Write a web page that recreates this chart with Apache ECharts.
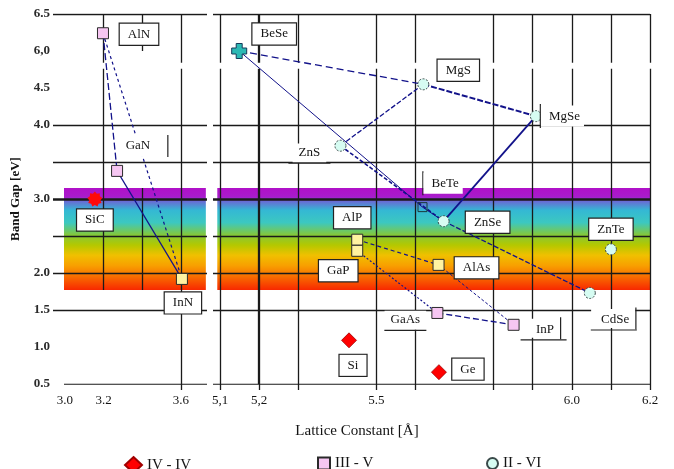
<!DOCTYPE html>
<html>
<head>
<meta charset="utf-8">
<script src="https://cdn.jsdelivr.net/npm/echarts@6/dist/echarts.min.js"></script>
<style>
html, body { margin: 0; padding: 0; background: #fff; }
#chart { width: 674px; height: 469px; }
</style>
</head>
<body>
<div id="chart"></div>
<script>
// compounds: lattice constant [A] and band gap, read on the drawn (broken) axis
var ivNames = ['SiC', 'Si', 'Ge'];
var ivLattice = [3.155, 5.43, 5.66];
var ivGap = [3.0, 1.09, 0.66];

var iiiNames = ['AlN', 'GaN', 'InN', 'AlP', 'GaP', 'AlAs', 'GaAs', 'InP'];
var iiiLattice = [3.197, 3.27, 3.606, 5.451, 5.451, 5.659, 5.656, 5.851];
var iiiGap = [5.24, 3.38, 1.92, 2.45, 2.30, 2.11, 1.46, 1.30];

var iiviNames = ['BeSe', 'MgS', 'MgSe', 'ZnS', 'BeTe', 'ZnSe', 'ZnTe', 'CdSe'];
var iiviLattice = [5.149, 5.62, 5.908, 5.408, 5.618, 5.672, 6.1, 6.046];
var iiviGap = [5.0, 4.55, 4.12, 3.72, 2.89, 2.70, 2.32, 1.73];

// tie lines between compounds
var links = [
  ['AlN', 'GaN'], ['GaN', 'InN'], ['AlN', 'InN'],
  ['BeSe', 'MgS'], ['MgS', 'MgSe'], ['MgS', 'ZnS'], ['MgSe', 'ZnSe'],
  ['BeSe', 'BeTe'], ['BeTe', 'ZnSe'], ['ZnS', 'ZnSe'], ['ZnSe', 'CdSe'],
  ['AlP', 'AlAs'], ['GaP', 'GaAs'], ['GaAs', 'InP'], ['AlAs', 'InP']
];

// axis ticks
var yTicks = [0.5, 1.0, 1.5, 2.0, 2.5, 3.0, 3.5, 4.0, 4.5, 5.0, 5.5];
var yTickLabels = ['0.5', '1.0', '1.5', '2.0', '', '3.0', '', '4.0', '4.5', '6,0', '6.5'];
var xLeftTicks = [3.0, 3.2, 3.6];
var xLeftTickLabels = ['3.0', '3.2', '3.6'];
var xRightTicks = [5.1, 5.2, 5.5, 6.0, 6.2];
var xRightTickLabels = ['5,1', '5,2', '5.5', '6.0', '6.2'];

// grid lines and the coloured visible band
var hLines = [5.5, 4.0, 3.5, 3.0, 2.5, 2.0, 1.5, 0.5];
var vLinesLeft = [3.2, 3.4, 3.6];
var vLinesRight = [5.1, 5.2, 5.3, 5.5, 5.6, 5.8, 5.9, 6.0, 6.1, 6.2];
var bandTop = 3.15;
var bandBottom = 1.77;

// ---------- layout / style ----------
var SERIF = '"Liberation Serif", "DejaVu Serif", serif';
var INK = '#141414';
var NAVY = '#12128a';
var leftRange = [2.938, 3.736];
var rightRange = [5.082, 6.2];
var yBreak = [4.76, 4.84];
var vSpansLeft = {
  '3.2': [[5.5, yBreak[1]], [yBreak[0], bandBottom]],
  '3.4': [[5.5, 5.0], [bandTop, bandBottom]],
  '3.6': [[5.5, yBreak[1]], [yBreak[0], 0.5]]
};
var boldLines = { '3': 2.6, '5.2': 2.3 };

var linkStyle = {
  'AlN-GaN': { type: [7, 3], width: 1.3 },
  'GaN-InN': { type: 'solid', width: 1.2 },
  'AlN-InN': { type: [3, 3], width: 1.2 },
  'BeSe-MgS': { type: [7, 4], width: 1.3 },
  'MgS-MgSe': { type: [6, 2], width: 2 },
  'MgS-ZnS': { type: [5, 2], width: 1.3 },
  'MgSe-ZnSe': { type: 'solid', width: 1.8 },
  'BeSe-BeTe': { type: 'solid', width: 1 },
  'BeTe-ZnSe': { type: 'solid', width: 1 },
  'ZnS-ZnSe': { type: [4, 2], width: 1.6 },
  'ZnSe-CdSe': { type: [5, 2], width: 1.3 },
  'AlP-AlAs': { type: [4, 3], width: 1.2 },
  'GaP-GaAs': { type: [2, 2], width: 1.2 },
  'GaAs-InP': { type: [6, 3], width: 1.3 },
  'AlAs-InP': { type: [3, 2], width: 1 }
};

var labelLayout = {
  AlN: [36, 1, 'box'], GaN: [28, -25, 'right'], InN: [1, 24, 'box'], SiC: [0, 21, 'box'],
  AlP: [-5, -22, 'box'], GaP: [-19, 20, 'box'], AlAs: [38, 3, 'box'], GaAs: [-32, 8, 'under'],
  InP: [30, 4, 'corner'], Si: [4, 25, 'box'], Ge: [29, -3, 'box'],
  BeSe: [35, -17, 'box'], MgS: [35, -14, 'box'], MgSe: [26, 0, 'left'], ZnS: [-31, 8, 'under'],
  BeTe: [20, -24, 'left'], ZnSe: [44, 1, 'box'], ZnTe: [0, -20, 'box'], CdSe: [24, 26, 'corner']
};

function starPath(n, r1, r2) {
  var p = [];
  for (var i = 0; i < n * 2; i++) {
    var r = i % 2 ? r2 : r1;
    var a = Math.PI * i / n;
    p.push((i ? 'L' : 'M') + (10 + r * Math.sin(a)).toFixed(2) + ',' + (10 - r * Math.cos(a)).toFixed(2));
  }
  return 'path://' + p.join(' ') + ' Z';
}
var plusPath = 'path://M3,0 L7,0 L7,3 L10,3 L10,7 L7,7 L7,10 L3,10 L3,7 L0,7 L0,3 L3,3 Z';

var itemOverride = {
  SiC: { symbol: starPath(9, 10, 7.5), symbolSize: 15, itemStyle: { color: '#ff0a0a', borderWidth: 0 } },
  InN: { itemStyle: { color: '#fff3a0' } },
  AlP: { itemStyle: { color: '#fff3a0' } },
  GaP: { itemStyle: { color: '#fff3a0' } },
  AlAs: { itemStyle: { color: '#fff3a0' } },
  BeSe: { symbol: plusPath, symbolSize: 15, itemStyle: { color: '#2cb8b4', borderColor: '#163a5a', borderType: 'solid', borderWidth: 1 } },
  BeTe: { symbol: 'rect', symbolSize: 9, itemStyle: { color: 'rgba(0,0,0,0)', borderColor: '#1a3a3a', borderType: 'solid', borderWidth: 1 } }
};

function txt(extra) {
  var s = { fontFamily: SERIF, fontSize: 13, color: INK };
  for (var k in extra) s[k] = extra[k];
  return s;
}

function makeLabel(name) {
  var L = labelLayout[name];
  var lab = { show: true, position: 'inside', offset: [L[0], L[1]], fontFamily: SERIF, fontSize: 13, color: INK, opacity: 1 };
  if (L[2] === 'box') {
    lab.formatter = name;
    lab.backgroundColor = '#fff';
    lab.borderColor = '#222';
    lab.borderWidth = 1.2;
    lab.padding = [4, 8];
  } else if (L[2] === 'right') {
    lab.formatter = '{t|' + name + '}{r|}';
    lab.rich = { t: txt({ backgroundColor: '#fff', padding: [4, 17, 4, 4] }), r: { width: 1.2, height: 22, backgroundColor: '#222' } };
  } else if (L[2] === 'left') {
    lab.formatter = '{l|}{t|' + name + '}';
    lab.rich = { t: txt({ backgroundColor: '#fff', padding: [4, 4, 4, 8] }), l: { width: 1.2, height: 24, backgroundColor: '#222' } };
  } else if (L[2] === 'under') {
    lab.formatter = '{t|' + name + '}\n{u|}';
    lab.rich = { t: txt({ backgroundColor: '#fff', padding: [2, 6, 4, 6] }), u: { width: 42, height: 1.2, backgroundColor: '#222' } };
  } else {
    lab.formatter = '{t|' + name + '}{r|}\n{b|}';
    lab.rich = { t: txt({ backgroundColor: '#fff', padding: [4, 6, 2, 10] }), r: { width: 1.2, height: 22, backgroundColor: '#222' }, b: { width: 46, height: 1.2, backgroundColor: '#222', align: 'right' } };
  }
  return lab;
}

function side(x) { return x < 4.5 ? 0 : 1; }

var pos = {};
function collect(names, lat, gap) {
  names.forEach(function (n, i) { pos[n] = [lat[i], gap[i]]; });
}
collect(ivNames, ivLattice, ivGap);
collect(iiiNames, iiiLattice, iiiGap);
collect(iiviNames, iiviLattice, iiviGap);

function pointsOn(names, lat, gap, s) {
  var out = [];
  names.forEach(function (n, i) {
    if (side(lat[i]) !== s) return;
    var d = { name: n, value: [lat[i], gap[i]], label: makeLabel(n) };
    var o = itemOverride[n];
    if (o) for (var k in o) d[k] = o[k];
    if (d.itemStyle) d.itemStyle.opacity = 1;
    out.push(d);
  });
  return out;
}

function fmt(ticks, labels) {
  return function (v) {
    for (var i = 0; i < ticks.length; i++) if (Math.abs(ticks[i] - v) < 1e-6) return labels[i];
    return '';
  };
}

// grid lines as data-space segments
function gridSegs(s) {
  var segs = [];
  var xr = s ? rightRange : leftRange;
  hLines.forEach(function (y) {
    var x0 = (!s && y === 0.5) ? 2.995 : xr[0];
    segs.push({ coords: [[x0, y], [xr[1], y]], lineStyle: { width: boldLines[String(y)] || 1.3 } });
  });
  var vs = s ? vLinesRight : vLinesLeft;
  vs.forEach(function (x) {
    var spans = (!s && vSpansLeft[String(x)]) || [[5.5, yBreak[1]], [yBreak[0], 0.5]];
    spans.forEach(function (sp) {
      segs.push({ coords: [[x, sp[0]], [x, sp[1]]], lineStyle: { width: boldLines[String(x)] || 1.3 } });
    });
  });
  return segs;
}

function linkSegs(s) {
  var segs = [];
  links.forEach(function (l) {
    var a = pos[l[0]], b = pos[l[1]];
    if (side(a[0]) !== s) return;
    var st = linkStyle[l[0] + '-' + l[1]];
    segs.push({ coords: [a, b], lineStyle: { type: st.type, width: st.width } });
  });
  return segs;
}

var band = new echarts.graphic.LinearGradient(0, 0, 0, 1, [
  { offset: 0.0, color: '#b010c8' },
  { offset: 0.09, color: '#a81ccc' },
  { offset: 0.13, color: '#6a6ad4' },
  { offset: 0.22, color: '#34b8d4' },
  { offset: 0.34, color: '#3cc8c0' },
  { offset: 0.46, color: '#84c83a' },
  { offset: 0.56, color: '#b4c800' },
  { offset: 0.66, color: '#f0c000' },
  { offset: 0.76, color: '#f8a000' },
  { offset: 0.87, color: '#f86c00' },
  { offset: 1.0, color: '#f82800' }
]);

function scat(name, s, data, symbol, size, itemStyle) {
  return {
    type: 'scatter', name: name, xAxisIndex: s, yAxisIndex: s, z: 5,
    data: data, symbol: symbol, symbolSize: size, itemStyle: itemStyle,
    emphasis: { disabled: true }
  };
}

var ivStyle = { color: '#ff0000', borderColor: '#a00000', borderWidth: 0.8, opacity: 1 };
var iiiStyle = { color: '#f6c6f2', borderColor: '#2a2a2a', borderWidth: 1, opacity: 1 };
var iiviStyle = { color: '#d6fcf2', borderColor: '#3a4a4a', borderWidth: 1, borderType: [2, 1.5], opacity: 1 };

var series = [];
[0, 1].forEach(function (s) {
  series.push({
    type: 'line', name: 'band' + s, xAxisIndex: s, yAxisIndex: s, data: [], z: 1, silent: true,
    markArea: {
      silent: true, itemStyle: { color: band, opacity: 1 },
      data: [[{ coord: [s ? 5.093 : 2.995, bandTop] }, { coord: [s ? 6.2 : 3.73, bandBottom] }]]
    }
  });
  series.push({
    type: 'lines', name: 'grid' + s, coordinateSystem: 'cartesian2d', xAxisIndex: s, yAxisIndex: s,
    z: 2, silent: true, lineStyle: { color: '#1a1a1a', width: 1.3, opacity: 1 }, data: gridSegs(s)
  });
  series.push({
    type: 'lines', name: 'links' + s, coordinateSystem: 'cartesian2d', xAxisIndex: s, yAxisIndex: s,
    z: 3, silent: true, lineStyle: { color: NAVY, width: 1.2, opacity: 1 }, data: linkSegs(s)
  });
});
series.push(scat('IV - IV', 0, pointsOn(ivNames, ivLattice, ivGap, 0), 'diamond', 15, ivStyle));
series.push(scat('IV - IV', 1, pointsOn(ivNames, ivLattice, ivGap, 1), 'diamond', 15, ivStyle));
series.push(scat('III - V', 0, pointsOn(iiiNames, iiiLattice, iiiGap, 0), 'rect', 11, iiiStyle));
series.push(scat('III - V', 1, pointsOn(iiiNames, iiiLattice, iiiGap, 1), 'rect', 11, iiiStyle));
series.push(scat('II - VI', 1, pointsOn(iiviNames, iiviLattice, iiviGap, 1), 'circle', 11, iiviStyle));

function legendAt(name, left, w, h) {
  return {
    data: [name], left: left, top: 451, itemWidth: w, itemHeight: h, itemGap: 10,
    selectedMode: false,
    textStyle: { fontFamily: SERIF, fontSize: 15, color: INK }
  };
}

var hidden = { show: false };
var option = {
  animation: false,
  backgroundColor: '#fff',
  title: {
    text: 'Lattice Constant [Å]', left: 352, top: 419, textAlign: 'center',
    textStyle: { fontFamily: SERIF, fontSize: 15, fontWeight: 'normal', color: INK }
  },
  legend: [
    legendAt('IV - IV', 119, 17, 16),
    legendAt('III - V', 312, 12, 12),
    legendAt('II - VI', 481, 11, 11)
  ],
  grid: [
    { left: 53, width: 154, top: 14, bottom: 85 },
    { left: 213, right: 24, top: 14, bottom: 85 }
  ],
  xAxis: [
    {
      type: 'value', gridIndex: 0, min: leftRange[0], max: leftRange[1],
      axisLine: hidden, splitLine: hidden,
      axisTick: { show: true, customValues: [3.6], length: 6, lineStyle: { color: '#1a1a1a', width: 1.3 } },
      axisLabel: { customValues: xLeftTicks, formatter: fmt(xLeftTicks, xLeftTickLabels), margin: 10, fontFamily: SERIF, fontSize: 13, color: INK }
    },
    {
      type: 'value', gridIndex: 1, min: rightRange[0], max: rightRange[1],
      axisLine: hidden, splitLine: hidden,
      axisTick: { show: true, customValues: vLinesRight, length: 6, lineStyle: { color: '#1a1a1a', width: 1.3 } },
      axisLabel: { customValues: xRightTicks, formatter: fmt(xRightTicks, xRightTickLabels), margin: 10, fontFamily: SERIF, fontSize: 13, color: INK }
    }
  ],
  yAxis: [
    {
      type: 'value', gridIndex: 0, min: 0.5, max: 5.5, interval: 0.5,
      axisLine: hidden, axisTick: hidden, splitLine: hidden,
      axisLabel: { formatter: fmt(yTicks, yTickLabels), margin: 3, fontFamily: SERIF, fontSize: 13, fontWeight: 'bold', color: '#2a2a2a' },
      name: 'Band Gap [eV]', nameLocation: 'middle', nameGap: 31, nameRotate: 90,
      nameTextStyle: { fontFamily: SERIF, fontSize: 13, fontWeight: 'bold', color: INK }
    },
    {
      type: 'value', gridIndex: 1, min: 0.5, max: 5.5, interval: 0.5,
      axisLine: hidden, axisTick: hidden, splitLine: hidden, axisLabel: hidden
    }
  ],
  series: series
};

var chart = echarts.init(document.getElementById('chart'));
chart.setOption(option);
</script>
</body>
</html>
